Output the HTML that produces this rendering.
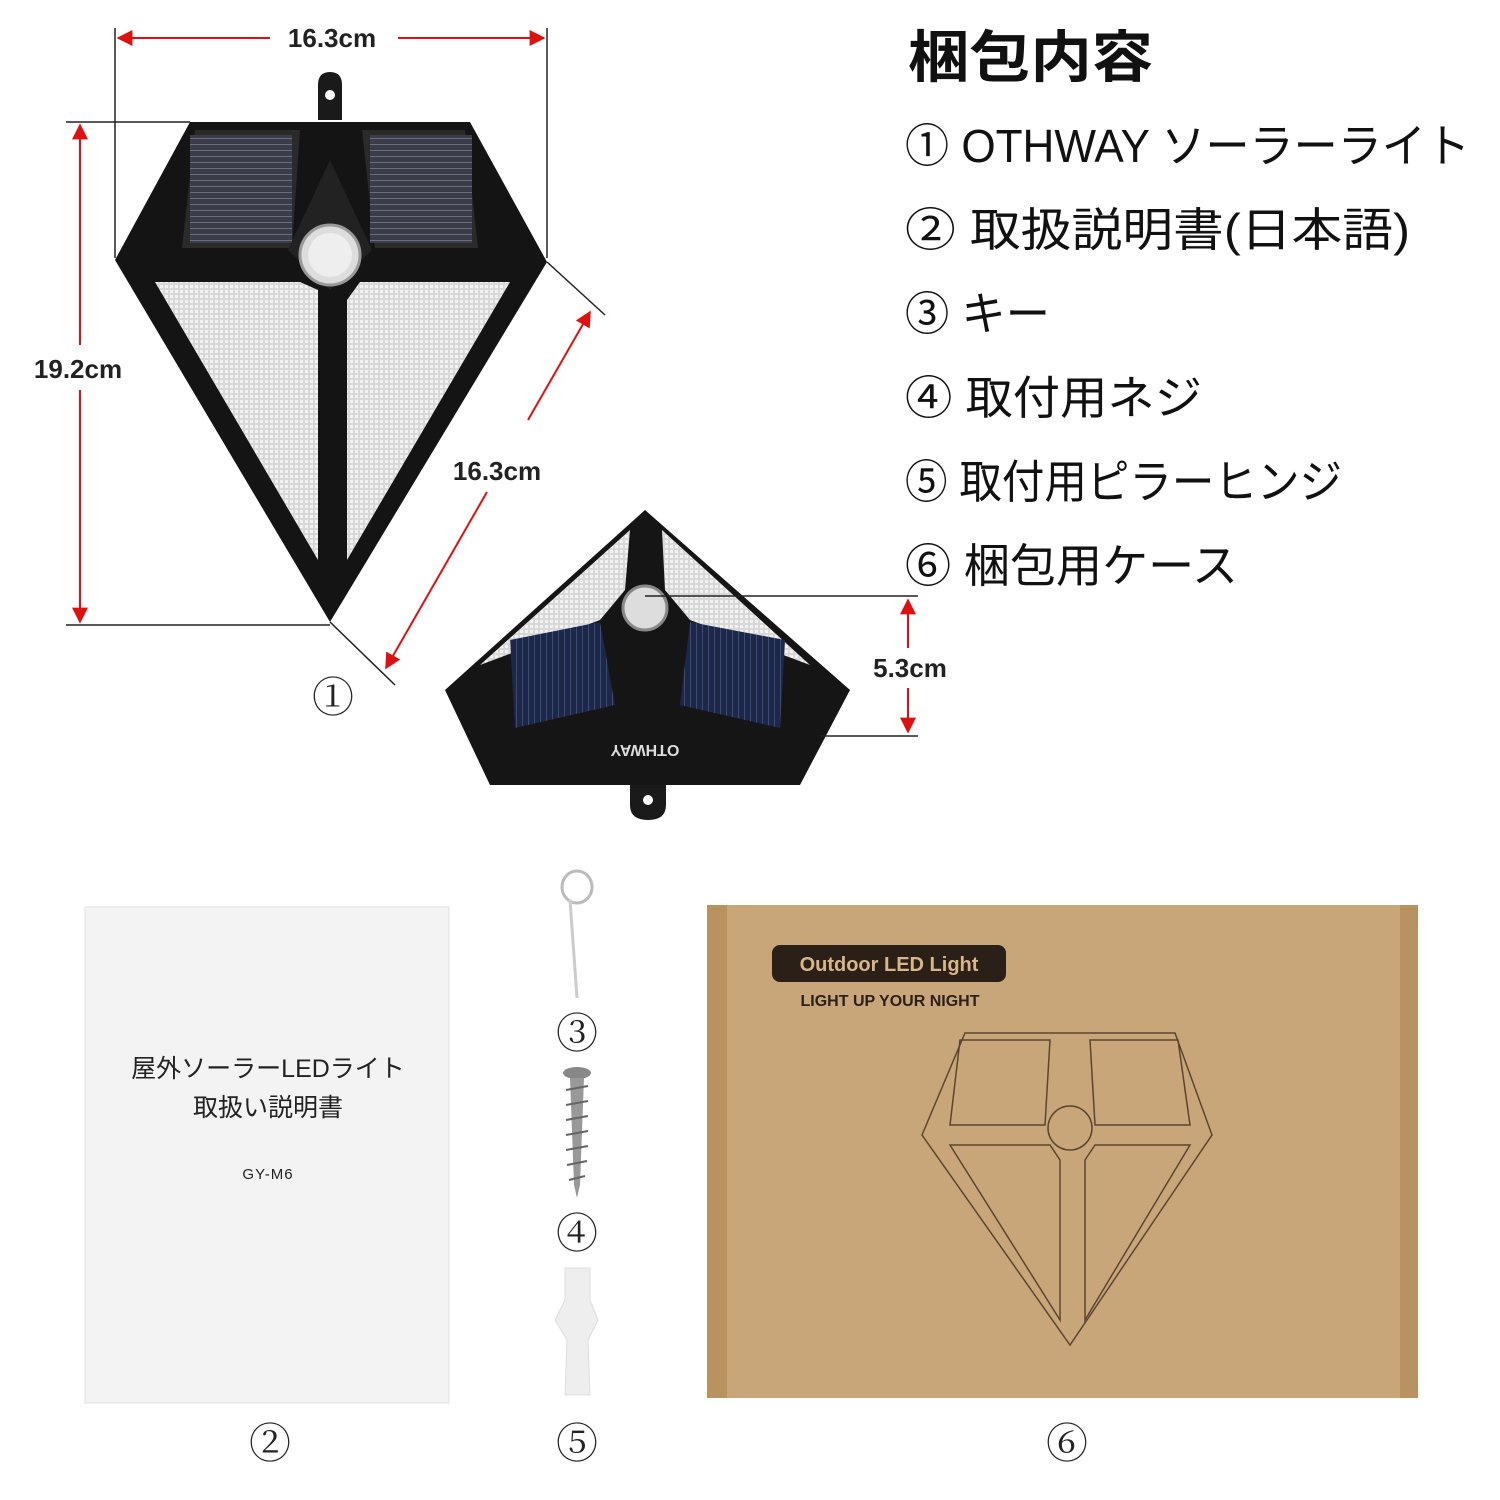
<!DOCTYPE html>
<html><head><meta charset="utf-8"><style>
html,body{margin:0;padding:0;background:#fff;}
svg{display:block}
.jp{font-family:"Liberation Sans","Noto Sans CJK JP",sans-serif;}
.num{font-family:"Liberation Serif","Noto Serif CJK SC",serif;}
</style></head><body>
<svg width="1500" height="1500" viewBox="0 0 1500 1500" xmlns="http://www.w3.org/2000/svg">
<defs>
<marker id="ar" viewBox="0 0 10 10" refX="9" refY="5" markerWidth="8" markerHeight="8" orient="auto-start-reverse"><path d="M0,0 L10,5 L0,10 z" fill="#e01010"/></marker>
<pattern id="grid" width="5" height="5" patternUnits="userSpaceOnUse"><rect width="5" height="5" fill="#d8d8d8"/><rect width="3" height="3" fill="#f2f2f2"/></pattern>
<pattern id="sol" width="6" height="6" patternUnits="userSpaceOnUse"><rect width="6" height="6" fill="#3a3d48"/><rect width="6" height="1" fill="#6a6e80"/></pattern>
<pattern id="sol2" width="6" height="6" patternUnits="userSpaceOnUse"><rect width="6" height="6" fill="#1d2848"/><rect width="1" height="6" fill="#3b4a78"/></pattern>
</defs>

<!-- dimension lines light 1 -->
<line x1="115" y1="120" x2="115" y2="258" stroke="#222" stroke-width="1.5"/>
<line x1="547" y1="28" x2="547" y2="258" stroke="#222" stroke-width="1.5"/>
<line x1="115" y1="28" x2="115" y2="120" stroke="#222" stroke-width="1.5"/>
<line x1="118" y1="38" x2="270" y2="38" stroke="#e01010" stroke-width="2" marker-start="url(#ar)"/>
<line x1="398" y1="38" x2="544" y2="38" stroke="#e01010" stroke-width="2" marker-end="url(#ar)"/>
<text x="332" y="47" text-anchor="middle" class="jp" font-size="26" font-weight="bold" fill="#222">16.3cm</text>
<line x1="66" y1="122" x2="190" y2="122" stroke="#222" stroke-width="1.5"/>
<line x1="66" y1="625" x2="330" y2="625" stroke="#222" stroke-width="1.5"/>
<line x1="80" y1="125" x2="80" y2="345" stroke="#e01010" stroke-width="2" marker-start="url(#ar)"/>
<line x1="80" y1="390" x2="80" y2="622" stroke="#e01010" stroke-width="2" marker-end="url(#ar)"/>
<text x="78" y="378" text-anchor="middle" class="jp" font-size="26" font-weight="bold" fill="#222">19.2cm</text>
<line x1="547" y1="262" x2="605" y2="315" stroke="#222" stroke-width="1.5"/>
<line x1="330" y1="622" x2="395" y2="685" stroke="#222" stroke-width="1.5"/>
<line x1="590" y1="312" x2="528" y2="420" stroke="#e01010" stroke-width="2" marker-start="url(#ar)"/>
<line x1="487" y1="492" x2="386" y2="668" stroke="#e01010" stroke-width="2" marker-end="url(#ar)"/>
<text x="497" y="480" text-anchor="middle" class="jp" font-size="26" font-weight="bold" fill="#222">16.3cm</text>

<!-- light 1 -->
<path d="M318,120 L318,85 Q318,72 330,72 Q342,72 342,85 L342,120 Z" fill="#1a1a1a"/>
<circle cx="330" cy="95" r="5" fill="#fff"/>
<path d="M190,122 L470,122 L547,262 L330,622 L115,260 Z" fill="#141414"/>
<path d="M195,130 L300,130 L292,248 L182,248 Z" fill="#2a2a2a"/>
<rect x="190" y="135" width="102" height="108" fill="url(#sol)"/>
<path d="M362,130 L465,130 L478,248 L375,248 Z" fill="#2a2a2a"/>
<rect x="370" y="135" width="102" height="108" fill="url(#sol)"/>
<path d="M330,160 L372,250 L330,290 L288,250 Z" fill="#222"/>
<circle cx="330" cy="255" r="30" fill="#ddd" stroke="#999" stroke-width="3"/>
<circle cx="330" cy="255" r="22" fill="#eee"/>
<path d="M155,282 L300,282 L318,290 L318,560 Z" fill="url(#grid)"/>
<path d="M360,282 L510,282 L347,560 L347,300 Z" fill="url(#grid)"/>
<text x="333" y="712" text-anchor="middle" class="num" font-size="42" fill="#222">①</text>

<!-- light 2 -->
<path d="M645,510 L850,690 L800,785 L490,785 L445,690 Z" fill="#151515"/>
<path d="M630,530 L480,665 L600,620 L625,590 Z" fill="url(#grid)"/>
<path d="M662,530 L810,665 L690,620 L665,590 Z" fill="url(#grid)"/>
<path d="M510,640 L600,622 L615,705 L515,728 Z" fill="url(#sol2)"/>
<path d="M690,622 L785,640 L780,728 L680,705 Z" fill="url(#sol2)"/>
<circle cx="645" cy="608" r="22" fill="#ddd" stroke="#888" stroke-width="3"/>
<text x="645" y="755" text-anchor="middle" font-family="Liberation Sans" font-size="16" font-weight="bold" fill="#ddd" transform="rotate(180 645 750)">OTHWAY</text>
<path d="M630,785 L630,805 Q630,820 648,820 Q666,820 666,805 L666,785 Z" fill="#1a1a1a"/>
<circle cx="648" cy="800" r="5" fill="#fff"/>
<line x1="645" y1="596" x2="918" y2="596" stroke="#222" stroke-width="1.5"/>
<line x1="820" y1="736" x2="918" y2="736" stroke="#222" stroke-width="1.5"/>
<line x1="908" y1="600" x2="908" y2="648" stroke="#e01010" stroke-width="2" marker-start="url(#ar)"/>
<line x1="908" y1="688" x2="908" y2="732" stroke="#e01010" stroke-width="2" marker-end="url(#ar)"/>
<text x="910" y="677" text-anchor="middle" class="jp" font-size="26" font-weight="bold" fill="#222">5.3cm</text>

<!-- list -->
<text x="908" y="77" class="jp" font-size="56" font-weight="bold" fill="#111" textLength="245" lengthAdjust="spacingAndGlyphs">梱包内容</text>
<g class="jp" font-size="46" fill="#111">
<text x="905" y="162" textLength="565" lengthAdjust="spacingAndGlyphs">① OTHWAY ソーラーライト</text>
<text x="905" y="246" textLength="505" lengthAdjust="spacingAndGlyphs">② 取扱説明書(日本語)</text>
<text x="905" y="330" textLength="145" lengthAdjust="spacingAndGlyphs">③ キー</text>
<text x="905" y="414" textLength="297" lengthAdjust="spacingAndGlyphs">④ 取付用ネジ</text>
<text x="905" y="498" textLength="437" lengthAdjust="spacingAndGlyphs">⑤ 取付用ピラーヒンジ</text>
<text x="905" y="582" textLength="333" lengthAdjust="spacingAndGlyphs">⑥ 梱包用ケース</text>
</g>

<!-- manual -->
<rect x="85" y="907" width="364" height="496" fill="#f3f3f3" stroke="#e0e0e0"/>
<text x="268" y="1077" text-anchor="middle" class="jp" font-size="25" fill="#222">屋外ソーラーLEDライト</text>
<text x="268" y="1116" text-anchor="middle" class="jp" font-size="25" fill="#222">取扱い説明書</text>
<text x="268" y="1179" text-anchor="middle" class="jp" font-size="15" fill="#222" letter-spacing="1">GY-M6</text>
<text x="270" y="1458" text-anchor="middle" class="num" font-size="42" fill="#222">②</text>

<!-- key, screw, plug -->
<ellipse cx="577" cy="887" rx="15" ry="16" fill="none" stroke="#bbb" stroke-width="3"/>
<line x1="570" y1="900" x2="577" y2="998" stroke="#ccc" stroke-width="3"/>
<text x="577" y="1048" text-anchor="middle" class="num" font-size="42" fill="#222">③</text>
<ellipse cx="577" cy="1073" rx="14" ry="6" fill="#888"/>
<path d="M570,1078 L584,1078 L580,1185 L577,1198 L574,1185 Z" fill="#999"/>
<g stroke="#666" stroke-width="2">
<line x1="566" y1="1090" x2="588" y2="1086"/><line x1="566" y1="1105" x2="588" y2="1101"/><line x1="566" y1="1120" x2="588" y2="1116"/><line x1="566" y1="1135" x2="588" y2="1131"/><line x1="566" y1="1150" x2="588" y2="1146"/><line x1="567" y1="1165" x2="587" y2="1161"/><line x1="569" y1="1180" x2="585" y2="1176"/>
</g>
<text x="577" y="1248" text-anchor="middle" class="num" font-size="42" fill="#222">④</text>
<path d="M565,1268 L590,1268 L590,1300 L598,1320 L588,1340 L590,1395 L565,1395 L567,1340 L555,1320 L565,1300 Z" fill="#eee" stroke="#ddd"/>
<text x="577" y="1458" text-anchor="middle" class="num" font-size="42" fill="#222">⑤</text>

<!-- box -->
<rect x="707" y="905" width="711" height="493" fill="#c9a67a"/>
<rect x="707" y="905" width="20" height="493" fill="#b8925f"/>
<rect x="1400" y="905" width="18" height="493" fill="#b8925f"/>
<rect x="772" y="945" width="234" height="37" rx="8" fill="#2a2018"/>
<text x="889" y="971" text-anchor="middle" class="jp" font-size="20" font-weight="bold" fill="#d8b68a">Outdoor LED Light</text>
<text x="890" y="1006" text-anchor="middle" class="jp" font-size="16" font-weight="bold" fill="#2a2018">LIGHT UP YOUR NIGHT</text>
<g fill="none" stroke="#5a4630" stroke-width="1.5">
<path d="M965,1033 L1175,1033 L1212,1135 L1070,1345 L922,1135 Z"/>
<path d="M960,1040 L1050,1040 L1045,1125 L950,1125 Z"/>
<path d="M1090,1040 L1178,1040 L1190,1125 L1095,1125 Z"/>
<circle cx="1070" cy="1128" r="22"/>
<path d="M950,1145 L1050,1145 L1060,1160 L1060,1320 Z"/>
<path d="M1085,1160 L1095,1145 L1190,1145 L1085,1320 Z"/>
</g>
<text x="1067" y="1458" text-anchor="middle" class="num" font-size="42" fill="#222">⑥</text>
</svg>
</body></html>
